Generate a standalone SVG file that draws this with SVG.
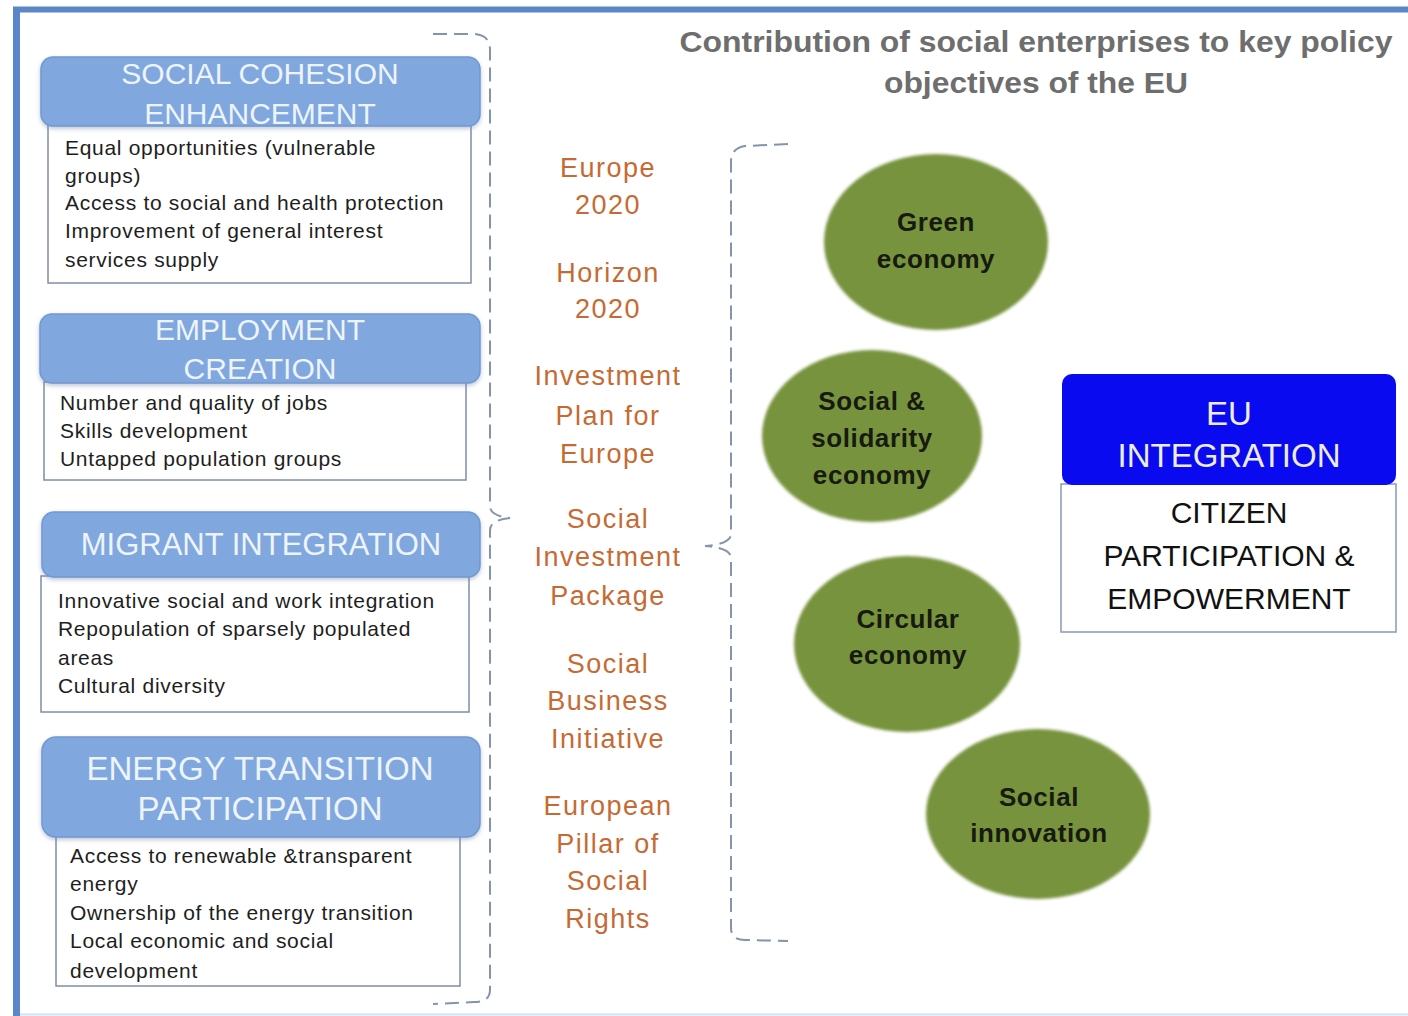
<svg xmlns="http://www.w3.org/2000/svg" width="1408" height="1016" viewBox="0 0 1408 1016">
<defs>
<filter id="soft" x="-10%" y="-10%" width="120%" height="120%">
<feGaussianBlur stdDeviation="1.6"/>
</filter>
<filter id="hshadow" x="-5%" y="-10%" width="110%" height="130%">
<feGaussianBlur in="SourceAlpha" stdDeviation="2"/>
<feOffset dx="0" dy="2" result="b"/>
<feFlood flood-color="#7a8fae" flood-opacity="0.5"/>
<feComposite in2="b" operator="in"/>
<feMerge><feMergeNode/><feMergeNode in="SourceGraphic"/></feMerge>
</filter>
</defs>
<style>
.hdr{fill:#80a7de;stroke:#7098d2;stroke-width:1.5}
.body{fill:#ffffff;stroke:#7f8ea6;stroke-width:1.5}
.htxt{font-family:"Liberation Sans",Arial,sans-serif;fill:#edf4fc;text-anchor:middle}
.btxt{font-family:"Liberation Sans",Arial,sans-serif;font-size:21px;fill:#1e1e1e;letter-spacing:0.7px}
.otxt{font-family:"Liberation Sans",Arial,sans-serif;font-size:27px;fill:#c66a34;text-anchor:middle;letter-spacing:1.5px}
.gtxt{font-family:"Liberation Sans",Arial,sans-serif;font-size:26px;font-weight:bold;fill:#171a10;text-anchor:middle;letter-spacing:0.6px}
.ell{fill:#77933c}
.brace{fill:none;stroke:#8494ad;stroke-width:2;stroke-dasharray:14 7}
.title{font-family:"Liberation Sans",Arial,sans-serif;font-size:29px;font-weight:bold;fill:#6e6e6e;text-anchor:middle}
.eutxt{font-family:"Liberation Sans",Arial,sans-serif;font-size:33px;fill:#ecece0;text-anchor:middle}
.cptxt{font-family:"Liberation Sans",Arial,sans-serif;font-size:30px;fill:#111111;text-anchor:middle}
</style>
<rect x="0" y="0" width="1408" height="1016" fill="#ffffff"/>
<g id="frame">
<line x1="13" y1="9.5" x2="1408" y2="9.5" stroke="#5b87c9" stroke-width="6"/>
<line x1="16.5" y1="7" x2="16.5" y2="1016" stroke="#5b87c9" stroke-width="7"/>
<line x1="20" y1="1014.5" x2="1408" y2="1014.5" stroke="#cfe2f3" stroke-width="2"/>
</g>
<g id="title">
<text class="title" x="1036" y="52" textLength="713" lengthAdjust="spacingAndGlyphs">Contribution of social enterprises to key policy</text>
<text class="title" x="1036" y="93" textLength="304" lengthAdjust="spacingAndGlyphs">objectives of the EU</text>
</g>
<g id="connectors">
<path class="brace" d="M433,34 L474,34 Q490,35 490,50 L490,506 Q490,516 510,518 Q490,520 490,530 L490,990 Q490,1002 474,1002 L433,1004"/>
<path class="brace" d="M788,144 L745,146 Q731,148 731,162 L731,534 Q731,544 705,546 Q731,548 731,558 L731,928 Q731,940 745,940 L788,941"/>
</g>
<g id="social-cohesion">
<rect class="body" x="48" y="125" width="423" height="158"/>
<rect class="hdr" x="41" y="57" width="439" height="69" rx="12" filter="url(#hshadow)"/>
<text class="htxt" x="260" y="84" font-size="30">SOCIAL COHESION</text>
<text class="htxt" x="260" y="124" font-size="30">ENHANCEMENT</text>
<text class="btxt" x="65" y="155">Equal opportunities (vulnerable</text>
<text class="btxt" x="65" y="183">groups)</text>
<text class="btxt" x="65" y="210">Access to social and health protection</text>
<text class="btxt" x="65" y="238">Improvement of general interest</text>
<text class="btxt" x="65" y="267">services supply</text>
</g>
<g id="employment-creation">
<rect class="body" x="44" y="382" width="422" height="98"/>
<rect class="hdr" x="40" y="314" width="440" height="69" rx="12" filter="url(#hshadow)"/>
<text class="htxt" x="260" y="340" font-size="30">EMPLOYMENT</text>
<text class="htxt" x="260" y="379" font-size="30">CREATION</text>
<text class="btxt" x="60" y="410">Number and quality of jobs</text>
<text class="btxt" x="60" y="438">Skills development</text>
<text class="btxt" x="60" y="466">Untapped population groups</text>
</g>
<g id="migrant-integration">
<rect class="body" x="41" y="576" width="428" height="136"/>
<rect class="hdr" x="42" y="512" width="438" height="65" rx="12" filter="url(#hshadow)"/>
<text class="htxt" x="261" y="555" font-size="31">MIGRANT INTEGRATION</text>
<text class="btxt" x="58" y="608">Innovative social and work integration</text>
<text class="btxt" x="58" y="636">Repopulation of sparsely populated</text>
<text class="btxt" x="58" y="665">areas</text>
<text class="btxt" x="58" y="693">Cultural diversity</text>
</g>
<g id="energy-transition">
<rect class="body" x="56" y="836" width="404" height="150"/>
<rect class="hdr" x="42" y="737" width="438" height="100" rx="14" filter="url(#hshadow)"/>
<text class="htxt" x="260" y="780" font-size="33">ENERGY TRANSITION</text>
<text class="htxt" x="260" y="820" font-size="33">PARTICIPATION</text>
<text class="btxt" x="70" y="863">Access to renewable &amp;transparent</text>
<text class="btxt" x="70" y="891">energy</text>
<text class="btxt" x="70" y="920">Ownership of the energy transition</text>
<text class="btxt" x="70" y="948">Local economic and social</text>
<text class="btxt" x="70" y="978">development</text>
</g>
<g id="policies">
<text class="otxt" x="608" y="177">Europe</text>
<text class="otxt" x="608" y="214">2020</text>
<text class="otxt" x="608" y="282">Horizon</text>
<text class="otxt" x="608" y="318">2020</text>
<text class="otxt" x="608" y="385">Investment</text>
<text class="otxt" x="608" y="425">Plan for</text>
<text class="otxt" x="608" y="463">Europe</text>
<text class="otxt" x="608" y="528">Social</text>
<text class="otxt" x="608" y="566">Investment</text>
<text class="otxt" x="608" y="605">Package</text>
<text class="otxt" x="608" y="673">Social</text>
<text class="otxt" x="608" y="710">Business</text>
<text class="otxt" x="608" y="748">Initiative</text>
<text class="otxt" x="608" y="815">European</text>
<text class="otxt" x="608" y="853">Pillar of</text>
<text class="otxt" x="608" y="890">Social</text>
<text class="otxt" x="608" y="928">Rights</text>
</g>
<g id="green-economy">
<ellipse class="ell" cx="936" cy="242" rx="112" ry="88" filter="url(#soft)"/>
<text class="gtxt" x="936" y="231">Green</text>
<text class="gtxt" x="936" y="268">economy</text>
</g>
<g id="social-solidarity-economy">
<ellipse class="ell" cx="872" cy="436" rx="110" ry="86" filter="url(#soft)"/>
<text class="gtxt" x="872" y="410">Social &amp;</text>
<text class="gtxt" x="872" y="447">solidarity</text>
<text class="gtxt" x="872" y="484">economy</text>
</g>
<g id="circular-economy">
<ellipse class="ell" cx="907" cy="644" rx="113" ry="88" filter="url(#soft)"/>
<text class="gtxt" x="908" y="628">Circular</text>
<text class="gtxt" x="908" y="664">economy</text>
</g>
<g id="social-innovation">
<ellipse class="ell" cx="1038" cy="814" rx="112" ry="85" filter="url(#soft)"/>
<text class="gtxt" x="1039" y="806">Social</text>
<text class="gtxt" x="1039" y="842">innovation</text>
</g>
<g id="eu-integration">
<rect x="1061" y="484" width="335" height="148" fill="#ffffff" stroke="#8a9ab2" stroke-width="1.5"/>
<rect x="1062" y="374" width="334" height="111" rx="10" fill="#0a0af0"/>
<text class="eutxt" x="1229" y="425">EU</text>
<text class="eutxt" x="1229" y="467">INTEGRATION</text>
<text class="cptxt" x="1229" y="523">CITIZEN</text>
<text class="cptxt" x="1229" y="566">PARTICIPATION &amp;</text>
<text class="cptxt" x="1229" y="609">EMPOWERMENT</text>
</g>
</svg>
